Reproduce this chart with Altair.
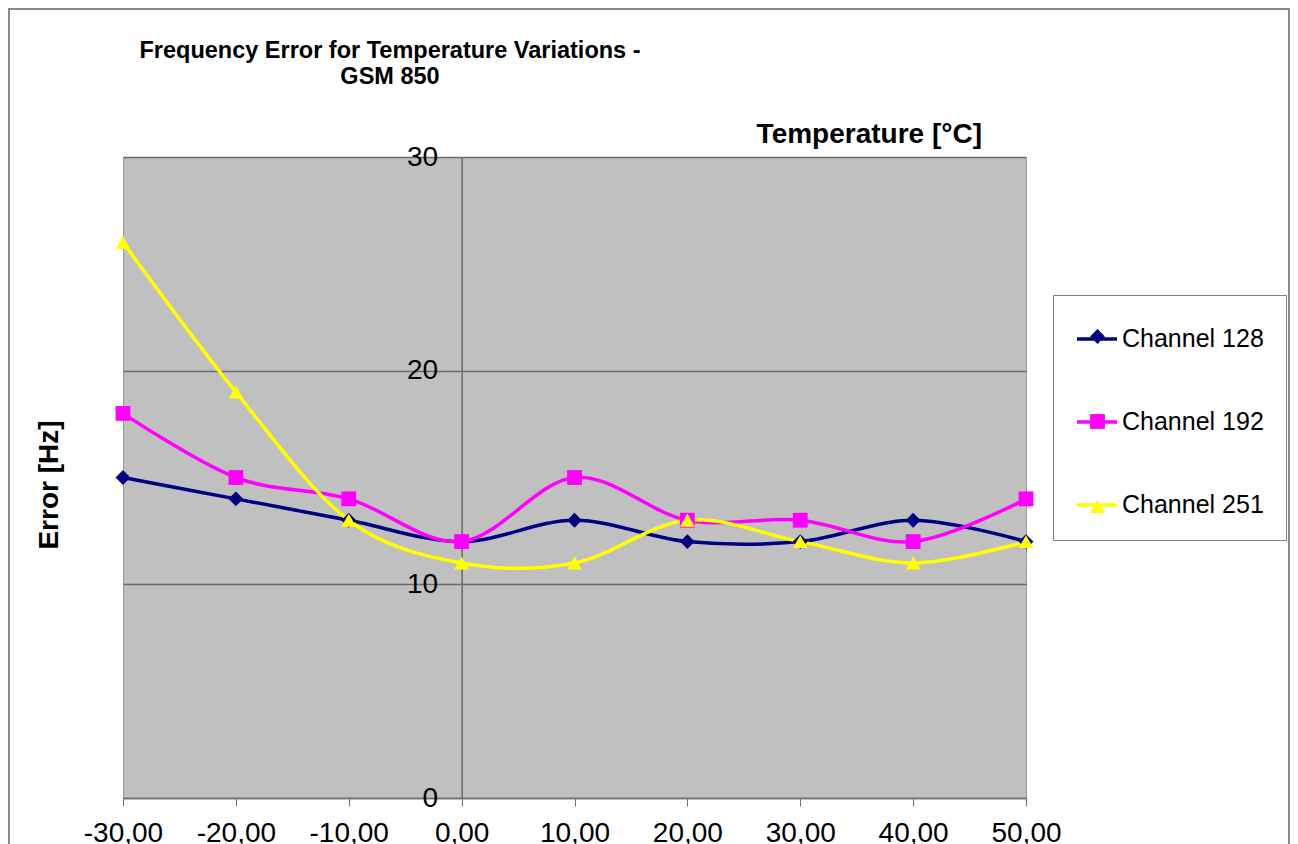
import altair as alt
import pandas as pd

# ---- data ----
temps = [-30, -20, -10, 0, 10, 20, 30, 40, 50]
ch128 = [15, 14, 13, 12, 13, 12, 12, 13, 12]
ch192 = [18, 15, 14, 12, 15, 13, 13, 12, 14]
ch251 = [26, 19, 13, 11, 11, 13, 12, 11, 12]
channel_ids = ["128", "192", "251"]
series_names = ["Channel 128", "Channel 192", "Channel 251"]
series_colors = ["#000080", "#FF00FF", "#FFFF00"]
series_shapes = ["diamond", "square", "triangle-up"]
y_ticks = [0, 10, 20, 30]
x_ticks = [-30, -20, -10, 0, 10, 20, 30, 40, 50]
title_lines = ["Frequency Error for Temperature Variations -", "GSM 850"]
x_title = "Temperature [°C]"
y_title = "Error [Hz]"

FONT = "Liberation Sans"
W, H = 903, 641

rows = []
for cid, name, vals in zip(channel_ids, series_names, [ch128, ch192, ch251]):
    for t, v in zip(temps, vals):
        rows.append({"temp": t, "error": v, "series": name, "ch": cid})
df = pd.DataFrame(rows)

x_scale = alt.Scale(domain=[-30, 50], nice=False, zero=False)
y_scale = alt.Scale(domain=[0, 30], nice=False)

X = alt.X("temp:Q", scale=x_scale, axis=alt.Axis(
    values=x_ticks, title=None, grid=False, tickSize=8, tickColor="#707070",
    domainColor="#707070", domainWidth=1.5, labelFont=FONT, labelFontSize=28,
    labelColor="black", labelPadding=13, labelFlush=False, labelOverlap=False,
    labelExpr="(datum.value < 0 ? '-' : '') + replace(format(abs(datum.value), '.2f'), '.', ',')"))
Y = alt.Y("error:Q", scale=y_scale, axis=alt.Axis(
    values=y_ticks, title=None, grid=True, gridColor="#6a6a6a", gridWidth=1.3,
    offset=-W * 30 / 80, tickSize=8, tickColor="#707070", domainColor="#6a6a6a",
    domainWidth=1.5, labelFont=FONT, labelFontSize=28, labelColor="black",
    labelPadding=16, format="d", labelOverlap=False, zindex=0))

legend_lines = alt.Legend(
    orient="none", legendX=930, legendY=138, title=None, symbolType="stroke",
    symbolSize=1600, symbolStrokeWidth=3.5, labelFont=FONT, labelFontSize=25,
    labelColor="black", padding=22, rowPadding=48, labelOffset=3, symbolOffset=0,
    strokeColor="#808080", cornerRadius=0)
legend_points = alt.Legend(
    orient="none", legendX=930, legendY=145, title=None, symbolSize=220,
    symbolStrokeWidth=0, labelFont=FONT, labelFontSize=25, labelExpr="''",
    padding=22, rowPadding=59, labelOffset=3, symbolOffset=10)

base = alt.Chart(df)
lines = base.mark_line(interpolate="cardinal", strokeWidth=3.5).encode(
    x=X, y=Y,
    stroke=alt.Stroke("series:N", scale=alt.Scale(domain=series_names, range=series_colors),
                      legend=legend_lines))
points = base.mark_point(filled=True, size=220, opacity=1).encode(
    x="temp:Q", y="error:Q",
    color=alt.Color("ch:N", scale=alt.Scale(domain=channel_ids, range=series_colors),
                    legend=legend_points),
    shape=alt.Shape("ch:N", scale=alt.Scale(domain=channel_ids, range=series_shapes),
                    legend=legend_points))

one = pd.DataFrame({"k": [0]})
frame = alt.Chart(one).mark_rect(fill="transparent", stroke="#8a8a8a", strokeWidth=2).encode(
    x=alt.value(-114), x2=alt.value(1166), y=alt.value(-148), y2=alt.value(720))
title_txt = alt.Chart(one).mark_text(
    text=title_lines, font=FONT, fontWeight="bold", fontSize=23.5, lineHeight=26,
    align="center", baseline="alphabetic", color="black").encode(
    x=alt.value(267), y=alt.value(-99))
xt = alt.Chart(one).mark_text(
    text=x_title, font=FONT, fontWeight="bold", fontSize=28, align="right",
    baseline="alphabetic", color="black").encode(x=alt.value(859), y=alt.value(-14))
yt = alt.Chart(one).mark_text(
    text=y_title, font=FONT, fontWeight="bold", fontSize=28, align="center",
    baseline="middle", angle=270, color="black").encode(x=alt.value(-73), y=alt.value(328))

chart = alt.layer(frame, lines, points, title_txt, xt, yt).properties(
    width=W, height=H,
    autosize=alt.AutoSizeParams(type="none"),
    padding={"left": 115, "top": 149, "right": 264, "bottom": 52},
    background="white",
).configure_view(fill="#C0C0C0", stroke="#999999", strokeWidth=1)

chart.save("out.html", embed_options={"renderer": "svg", "actions": False})
